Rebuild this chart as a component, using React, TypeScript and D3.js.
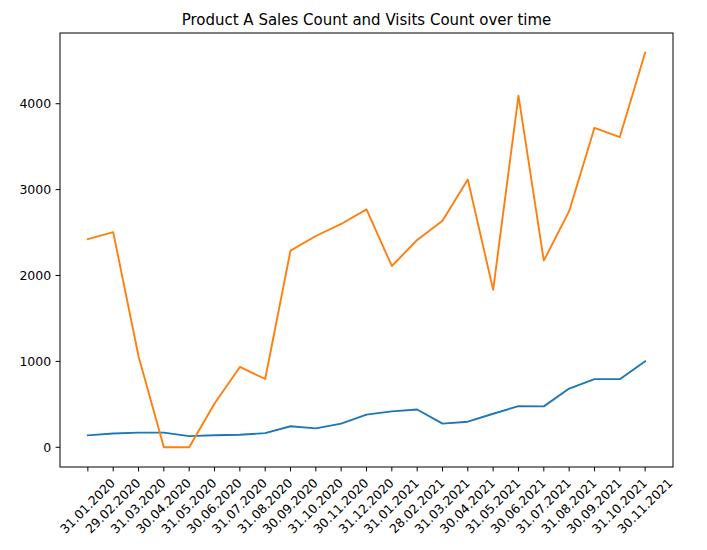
import { useEffect, useRef } from 'react';
import * as d3 from 'd3';

const dates = [
  '31.01.2020', '29.02.2020', '31.03.2020', '30.04.2020', '31.05.2020', '30.06.2020',
  '31.07.2020', '31.08.2020', '30.09.2020', '31.10.2020', '30.11.2020', '31.12.2020',
  '31.01.2021', '28.02.2021', '31.03.2021', '30.04.2021', '31.05.2021', '30.06.2021',
  '31.07.2021', '31.08.2021', '30.09.2021', '31.10.2021', '30.11.2021'
];

const salesCount = [
  139, 160, 170, 170, 130, 140, 145, 165, 245, 220, 275, 380,
  418, 440, 275, 298, 390, 479, 476, 684, 793, 793, 1001
];

const visitsCount = [
  2424, 2505, 1060, 0, 0, 510, 935, 795, 2290, 2460, 2600, 2770,
  2111, 2413, 2637, 3117, 1833, 4095, 2173, 2749, 3720, 3612, 4594
];

const yTicks = [0, 1000, 2000, 3000, 4000];

const W = 707;
const H = 550;
const margin = { left: 60, right: 34, top: 33, bottom: 83 };

export default function App() {
  const svgRef = useRef<SVGSVGElement>(null);

  useEffect(() => {
    if (!svgRef.current) return;
    const svg = d3.select(svgRef.current);
    svg.selectAll('*').remove();

    const pw = W - margin.left - margin.right;
    const ph = H - margin.top - margin.bottom;
    const font = 'DejaVu Sans, sans-serif';
    const tickFs = 12.5;
    const tickLen = 4.4;
    const tickPad = 4.4;

    const n = dates.length - 1;
    const x = d3.scaleLinear()
      .domain([-0.05 * n, n * 1.05])
      .range([margin.left, margin.left + pw]);

    const yMin = 0;
    const yMax = d3.max(visitsCount)!;
    const pad = (yMax - yMin) * 0.05;
    const y = d3.scaleLinear()
      .domain([yMin - pad, yMax + pad])
      .range([margin.top + ph, margin.top]);

    // lines
    const line = d3.line<number>()
      .x((_, i) => x(i))
      .y(d => y(d));

    svg.append('path')
      .datum(salesCount)
      .attr('d', line)
      .attr('fill', 'none')
      .attr('stroke', '#1f77b4')
      .attr('stroke-width', 1.9)
      .attr('stroke-linejoin', 'round')
      .attr('stroke-linecap', 'square');

    svg.append('path')
      .datum(visitsCount)
      .attr('d', line)
      .attr('fill', 'none')
      .attr('stroke', '#ff7f0e')
      .attr('stroke-width', 1.9)
      .attr('stroke-linejoin', 'round')
      .attr('stroke-linecap', 'square');

    // frame
    svg.append('rect')
      .attr('x', margin.left)
      .attr('y', margin.top)
      .attr('width', pw)
      .attr('height', ph)
      .attr('fill', 'none')
      .attr('stroke', '#000')
      .attr('stroke-width', 1);

    // y axis
    const yAxis = svg.append('g');
    yTicks.forEach(t => {
      yAxis.append('line')
        .attr('x1', margin.left - tickLen)
        .attr('x2', margin.left)
        .attr('y1', y(t))
        .attr('y2', y(t))
        .attr('stroke', '#000')
        .attr('stroke-width', 1);
      yAxis.append('text')
        .attr('x', margin.left - tickLen - tickPad)
        .attr('y', y(t))
        .attr('dy', '0.35em')
        .attr('text-anchor', 'end')
        .attr('font-family', font)
        .attr('font-size', tickFs)
        .attr('fill', '#000')
        .text(t);
    });

    // x axis, labels rotated 45° with bbox centred on the tick
    const xAxis = svg.append('g');
    const by = margin.top + ph;
    dates.forEach((d, i) => {
      xAxis.append('line')
        .attr('x1', x(i))
        .attr('x2', x(i))
        .attr('y1', by)
        .attr('y2', by + tickLen)
        .attr('stroke', '#000')
        .attr('stroke-width', 1);
      const t = xAxis.append('text')
        .attr('text-anchor', 'middle')
        .attr('dy', '0.32em')
        .attr('font-family', font)
        .attr('font-size', tickFs)
        .attr('fill', '#000')
        .text(d);
      const tw = (t.node() as SVGTextElement).getComputedTextLength();
      const th = tickFs * 1.16;
      const half = (tw + th) * Math.SQRT1_2 / 2;
      t.attr('transform', `translate(${x(i)},${by + tickLen + tickPad + half}) rotate(-45)`);
    });

    svg.append('text')
      .attr('x', margin.left + pw / 2)
      .attr('y', 25)
      .attr('text-anchor', 'middle')
      .attr('font-family', font)
      .attr('font-size', 15)
      .attr('fill', '#000')
      .text('Product A Sales Count and Visits Count over time');
  }, []);

  return (
    <svg
      ref={svgRef}
      width={W}
      height={H}
      style={{ display: 'block', position: 'absolute', left: 0, top: 0, background: '#fff' }}
    />
  );
}
